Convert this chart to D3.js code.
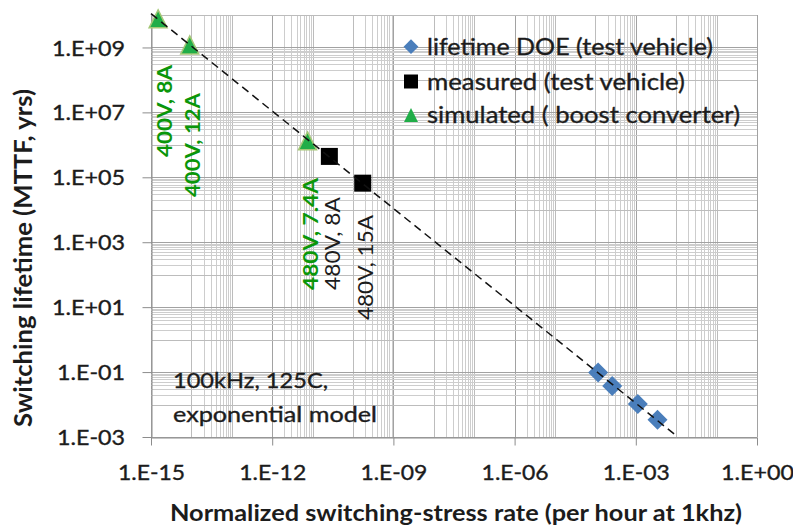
<!DOCTYPE html>
<html><head><meta charset="utf-8">
<script src="https://cdn.jsdelivr.net/npm/d3@7"></script>
<style>
html,body{margin:0;padding:0;background:#fff;}
svg{display:block;font-family:Lato,"Open Sans",sans-serif;}
</style></head>
<body><svg id="c" width="793" height="532"></svg>
<script>
// ---------- data ----------
const xTickValues = [1e-15, 1e-12, 1e-9, 1e-6, 1e-3, 1e0];
const xTickLabels = ["1.E-15", "1.E-12", "1.E-09", "1.E-06", "1.E-03", "1.E+00"];
const yTickValues = [1e-3, 1e-1, 1e1, 1e3, 1e5, 1e7, 1e9];
const yTickLabels = ["1.E-03", "1.E-01", "1.E+01", "1.E+03", "1.E+05", "1.E+07", "1.E+09"];

// lifetime DOE (test vehicle)
const doeX = [1.17e-4, 2.6e-4, 1.12e-3, 3.45e-3];
const doeY = [0.097, 0.037, 0.0104, 0.0034];
// measured (test vehicle)
const measX = [2.6e-11, 1.74e-10];
const measY = [4.4e5, 6.6e4];
// simulated (boost converter)
const simX = [1.5e-15, 9.1e-15, 7.5e-12];
const simY = [7.6e9, 1.2e9, 1.33e6];
// dashed trend line end points
const trendX = [1e-15, 1.1e-2];
const trendY = [1.1e10, 1e-3];

const legendLabels = ["lifetime DOE (test vehicle)", "measured (test vehicle)", "simulated ( boost converter)"];
const xTitle = "Normalized switching-stress rate (per hour at 1khz)";
const yTitle = "Switching lifetime (MTTF, yrs)";
const noteLines = ["100kHz, 125C,", "exponential model"];
const pointLabels = ["400V, 8A", "400V, 12A", "480V, 7.4A", "480V, 8A", "480V, 15A"];

// ---------- chart ----------
const svg = d3.select("#c");
const x = d3.scaleLog().domain([1e-15, 1e0]).range([151, 757]);
const y = d3.scaleLog().domain([1e-3, 1e10]).range([437, 15]);

const GREEN_TXT = "#0a960a", DARK = "#1c1c1c";
function fit(sel, len) { sel.attr("textLength", len).attr("lengthAdjust", "spacingAndGlyphs"); }
function thick(sel, w) { sel.attr("stroke", function() { return d3.select(this).attr("fill"); }).attr("stroke-width", w); }

// gridlines
function gridVals(lo, hi, majorMod, majorRem) {
  const out = [];
  for (let n = lo; n <= hi; n++) {
    const major = ((n % majorMod) + majorMod) % majorMod === majorRem;
    out.push({v: Math.pow(10, n), t: major ? "major" : "decade"});
    if (n < hi && ((n % 2) + 2) % 2 === 0) {
      for (let k = 2; k <= 9; k++) out.push({v: k * Math.pow(10, n), t: "minor"});
    }
  }
  return out;
}
const gcol = {minor: "#cdcdcd", decade: "#bcbcbc", major: "#a2a2a2"};
const xg = gridVals(-15, 0, 3, 0);
const yg = gridVals(-3, 10, 2, 1);
const order = {minor: 0, decade: 1, major: 2};
const gGrid = svg.append("g");
gGrid.selectAll("line.gx").data(xg.sort((a, b) => order[a.t] - order[b.t])).join("line")
  .attr("x1", d => Math.round(x(d.v)) + 0.5).attr("x2", d => Math.round(x(d.v)) + 0.5)
  .attr("y1", y(1e10)).attr("y2", y(1e-3))
  .attr("stroke", d => gcol[d.t]).attr("stroke-width", 1);
gGrid.selectAll("line.gy").data(yg.sort((a, b) => order[a.t] - order[b.t])).join("line")
  .attr("y1", d => Math.round(y(d.v)) + 0.5).attr("y2", d => Math.round(y(d.v)) + 0.5)
  .attr("x1", x(1e-15)).attr("x2", x(1e0))
  .attr("stroke", d => gcol[d.t]).attr("stroke-width", 1);

// axes
const xAxis = d3.axisBottom(x).tickValues(xTickValues).tickFormat((d, i) => xTickLabels[i])
  .tickSizeInner(8).tickSizeOuter(0);
const yAxis = d3.axisLeft(y).tickValues(yTickValues).tickFormat((d, i) => yTickLabels[i])
  .tickSizeInner(9).tickSizeOuter(0);
const gx = svg.append("g").attr("transform", "translate(0,437.5)").call(xAxis);
const gy = svg.append("g").attr("transform", "translate(151.5,0)").call(yAxis);
[gx, gy].forEach(g => {
  g.select(".domain").attr("stroke", "#8c8c8c");
  g.selectAll(".tick line").attr("stroke", "#8c8c8c");
  g.selectAll("text").attr("font-family", "Lato").attr("font-size", 21).attr("fill", DARK).call(thick, 0.35);
});
gx.selectAll("text").attr("y", 42.5).attr("dy", 0)
  .each(function(d, i) { fit(d3.select(this), xTickLabels[i].includes("+") ? 73 : 67); });
gy.selectAll("text").attr("x", -26.5).attr("dy", "0.36em")
  .each(function(d, i) { fit(d3.select(this), yTickLabels[i].includes("+") ? 73 : 68); });

// markers
const gm = svg.append("g");
const triPath = s => `M0,${-s/2}L${s/2},${s/2}L${-s/2},${s/2}Z`;
gm.selectAll("path.doe").data(doeX.map((v, i) => [v, doeY[i]])).join("path")
  .attr("d", d3.symbol(d3.symbolSquare, 200)())
  .attr("transform", d => `translate(${x(d[0])},${y(d[1])}) rotate(45)`)
  .attr("fill", "#4a7ebb");
gm.selectAll("path.meas").data(measX.map((v, i) => [v, measY[i]])).join("path")
  .attr("d", d3.symbol(d3.symbolSquare, 289)())
  .attr("transform", d => `translate(${x(d[0])},${y(d[1])})`)
  .attr("fill", "#000");
gm.selectAll("path.sim").data(simX.map((v, i) => [v, simY[i]])).join("path")
  .attr("d", triPath(18))
  .attr("transform", d => `translate(${x(d[0])},${y(d[1])})`)
  .attr("fill", "#20ad48").attr("stroke", "#a5c877").attr("stroke-width", 1.5);

// trend line
svg.append("path")
  .datum(trendX.map((v, i) => [v, trendY[i]]))
  .attr("d", d3.line().x(d => x(d[0])).y(d => y(d[1])))
  .attr("fill", "none").attr("stroke", "#111").attr("stroke-width", 1.5)
  .attr("stroke-dasharray", "8,5");

// legend
const lg = svg.append("g");
const legRowY = [46.7, 81.5, 115];
const legW = [286, 258, 313];
lg.append("path").attr("d", d3.symbol(d3.symbolSquare, 110)())
  .attr("transform", `translate(411,${legRowY[0]}) rotate(45)`).attr("fill", "#4a7ebb");
lg.append("path").attr("d", d3.symbol(d3.symbolSquare, 196)())
  .attr("transform", `translate(411,${legRowY[1]})`).attr("fill", "#000");
lg.append("path").attr("d", triPath(14))
  .attr("transform", `translate(411,${legRowY[2]})`).attr("fill", "#20ad48");
legendLabels.forEach((t, i) => {
  lg.append("text").attr("x", 427).attr("y", legRowY[i] + 8)
    .attr("font-size", 24).attr("fill", DARK).text(t).call(fit, legW[i]).call(thick, 0.35);
});

// titles
svg.append("text").attr("x", 456).attr("y", 521).attr("text-anchor", "middle")
  .attr("font-size", 23).attr("font-weight", "bold").attr("fill", DARK)
  .text(xTitle).call(fit, 572);
svg.append("text").attr("transform", "translate(32,258) rotate(-90)").attr("text-anchor", "middle")
  .attr("font-size", 24).attr("font-weight", "bold").attr("fill", DARK)
  .text(yTitle).call(fit, 338);

// note
svg.append("text").attr("x", 173).attr("y", 388).attr("font-size", 21).attr("fill", DARK)
  .text(noteLines[0]).call(fit, 155).call(thick, 0.35);
svg.append("text").attr("x", 173).attr("y", 422).attr("font-size", 21).attr("fill", DARK)
  .text(noteLines[1]).call(fit, 204).call(thick, 0.35);

// rotated point labels
const lblPos = [[171.5, 157, 92], [200, 197, 104], [318, 290, 112], [339.5, 290, 93], [372.5, 320, 105]];
const lblStyle = [[GREEN_TXT, "bold"], [GREEN_TXT, "bold"], [GREEN_TXT, "bold"], [DARK, "normal"], [DARK, "normal"]];
pointLabels.forEach((t, i) => {
  svg.append("text").attr("transform", `translate(${lblPos[i][0]},${lblPos[i][1]}) rotate(-90)`)
    .attr("font-size", 21).attr("font-weight", lblStyle[i][1]).attr("fill", lblStyle[i][0])
    .text(t).call(fit, lblPos[i][2]);
});
</script></body></html>
